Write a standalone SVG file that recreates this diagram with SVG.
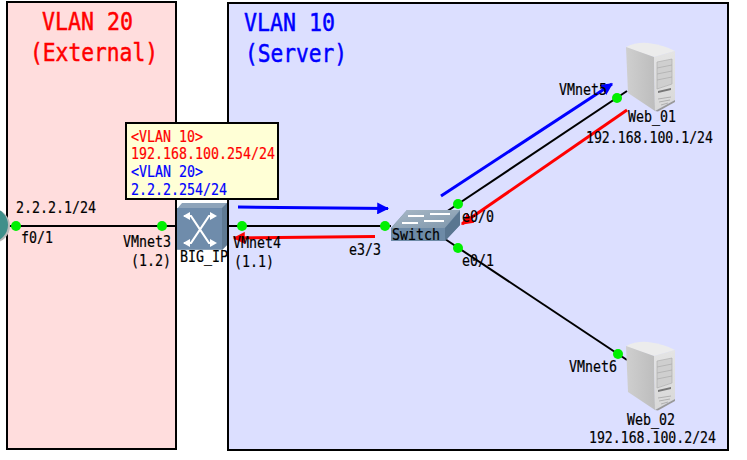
<svg xmlns="http://www.w3.org/2000/svg" width="747" height="460" viewBox="0 0 747 460">
<defs>
<style>
text{font-family:"DejaVu Sans Mono","Liberation Mono",monospace;fill:#000;stroke:#000;stroke-width:.2px;font-size:15px}
text.big{font-size:25px;stroke-width:.5px}
text.r{fill:#f00;stroke:#f00}
text.b{fill:#00f;stroke:#00f}
.zone{stroke:#000;stroke-width:2}
.link{stroke:#000;stroke-width:2;fill:none}
.dot{fill:#00f000}
</style>
<marker id="ab" viewBox="0 0 10 10" refX="9" refY="5" markerWidth="4" markerHeight="4" orient="auto" markerUnits="strokeWidth"><path d="M0 0L10 5L0 10Z" fill="#00f"/></marker>
<marker id="ar" viewBox="0 0 10 10" refX="9" refY="5" markerWidth="4" markerHeight="4" orient="auto" markerUnits="strokeWidth"><path d="M0 0L10 5L0 10Z" fill="#f00"/></marker>
<linearGradient id="srvF" x1="0" y1="0" x2="0" y2="1"><stop offset="0" stop-color="#e4e4e4"/><stop offset="1" stop-color="#d8d8d8"/></linearGradient>
<linearGradient id="srvS" x1="0" y1="0" x2="1" y2="0"><stop offset="0" stop-color="#cfcfcf"/><stop offset="1" stop-color="#bdbdbd"/></linearGradient>
<linearGradient id="swT" x1="0" y1="0" x2="1" y2="1"><stop offset="0" stop-color="#a8b8c6"/><stop offset="1" stop-color="#7f97ac"/></linearGradient>
<g id="server">
<path d="M0 5Q10 0 22 1Q38 3 49 9L28 15Q12 10 0 5Z" fill="#ececec"/>
<path d="M0 5L28 15L29 69L2 51Z" fill="url(#srvS)"/>
<path d="M28 15L49 9L49 58L29 69Z" fill="url(#srvF)"/>
<path d="M29 69L49 58L49 60L32 69.500Z" fill="#999"/>
<path d="M31 20L46 17V42L31 47Z" fill="#cfcfcf" stroke="#aaa" stroke-width=".6"/>
<path d="M31 26L46 23M31 32L46 29M31 38L46 35" stroke="#aaa" stroke-width=".7"/>
<path d="M32 49L45 46V48L32 51Z" fill="#777"/>
<path d="M32 57L45 55M33 60L44 58M35 63L42 61" stroke="#aaa" stroke-width=".9"/>
</g>
</defs>
<rect width="747" height="460" fill="#fff"/>
<g id="zones">
<rect class="zone" x="7" y="2" width="169" height="447" fill="#ffdddd"/>
<rect class="zone" x="228" y="3" width="500" height="447" fill="#dcdfff"/>
</g>
<g id="connectors">
<path class="link" d="M0 226H176M227 226H391"/>
<path class="link" d="M446 212L627 91"/>
<path class="link" d="M445 239L627 360"/>
<path d="M238 207L388 208.500" stroke="#00f" stroke-width="3" fill="none" marker-end="url(#ab)"/>
<path d="M375 236.500L234 238" stroke="#f00" stroke-width="3" fill="none" marker-end="url(#ar)"/>
<path d="M441 196L612 84" stroke="#00f" stroke-width="3" fill="none" marker-end="url(#ab)"/>
<path d="M627 110L462 224" stroke="#f00" stroke-width="3" fill="none" marker-end="url(#ar)"/>
</g>
<g id="ext-router">
<circle cx="-7" cy="226" r="17" fill="#bbb"/>
<circle cx="-9" cy="225" r="17" fill="#3f8f8a"/>
</g>
<g id="big-ip">
<path d="M177 209L182 203H227V245L222 250H177Z" fill="#8ea4ba"/>
<path d="M222 208L227 203V245L222 250Z" fill="#5f7a94"/>
<rect x="177" y="208" width="45" height="41" fill="#6f8cab"/>
<path d="M184 216H191L209 243H215M184 243H191L209 216H215" stroke="#fff" stroke-width="2.200" fill="none"/>
<path d="M190 212L183 216L190 220ZM190 239L183 243L190 247ZM210 212L217 216L210 220ZM210 239L217 243L210 247Z" fill="#fff"/>
<text x="180" y="262" textLength="48" lengthAdjust="spacingAndGlyphs">BIG_IP</text>
</g>
<g id="switch">
<path d="M391 228L407 210H460V225L445 241H391Z" fill="#6d8aa6"/>
<path d="M391 228L407 210H460L445 228Z" fill="url(#swT)"/>
<path d="M445 228L460 211V225L445 241Z" fill="#5a7690"/>
<path d="M408 216H424M430 214H450M402 223H418M424 221H444" stroke="#fff" stroke-width="2.200"/>
<text x="392" y="240" textLength="48" lengthAdjust="spacingAndGlyphs">Switch</text>
</g>
<g id="web01">
<use href="#server" x="626" y="42"/>
<text x="628" y="122" textLength="48" lengthAdjust="spacingAndGlyphs">Web_01</text>
<text x="586" y="143" textLength="127" lengthAdjust="spacingAndGlyphs">192.168.100.1/24</text>
</g>
<g id="web02">
<use href="#server" x="626" y="341"/>
<text x="627" y="425" textLength="48" lengthAdjust="spacingAndGlyphs">Web_02</text>
<text x="589" y="443" textLength="127" lengthAdjust="spacingAndGlyphs">192.168.100.2/24</text>
</g>
<g id="note">
<rect x="126" y="123" width="152" height="76" fill="#ffffd6" stroke="#000" stroke-width="2"/>
<text class="r" x="131" y="142" textLength="72" lengthAdjust="spacingAndGlyphs">&lt;VLAN 10&gt;</text>
<text class="r" x="131" y="159" textLength="144" lengthAdjust="spacingAndGlyphs">192.168.100.254/24</text>
<text class="b" x="131" y="177" textLength="72" lengthAdjust="spacingAndGlyphs">&lt;VLAN 20&gt;</text>
<text class="b" x="131" y="195" textLength="96" lengthAdjust="spacingAndGlyphs">2.2.2.254/24</text>
</g>
<g id="titles">
<text class="big r" x="42" y="30" textLength="91" lengthAdjust="spacingAndGlyphs">VLAN 20</text>
<text class="big r" x="30" y="61" textLength="128" lengthAdjust="spacingAndGlyphs">(External)</text>
<text class="big b" x="244" y="31" textLength="91" lengthAdjust="spacingAndGlyphs">VLAN 10</text>
<text class="big b" x="245" y="62" textLength="102" lengthAdjust="spacingAndGlyphs">(Server)</text>
</g>
<g id="ports">
<circle class="dot" cx="16" cy="226" r="5"/>
<circle class="dot" cx="162" cy="226" r="5"/>
<circle class="dot" cx="242" cy="226" r="5"/>
<circle class="dot" cx="385" cy="226" r="5"/>
<circle class="dot" cx="458" cy="204" r="5"/>
<circle class="dot" cx="458" cy="248" r="5"/>
<circle class="dot" cx="617" cy="98" r="5"/>
<circle class="dot" cx="618" cy="354" r="5"/>
<text x="16" y="213" textLength="80" lengthAdjust="spacingAndGlyphs">2.2.2.1/24</text>
<text x="21" y="243" textLength="32" lengthAdjust="spacingAndGlyphs">f0/1</text>
<text x="123" y="247" textLength="48" lengthAdjust="spacingAndGlyphs">VMnet3</text>
<text x="131" y="266" textLength="40" lengthAdjust="spacingAndGlyphs">(1.2)</text>
<text x="233" y="248" textLength="48" lengthAdjust="spacingAndGlyphs">VMnet4</text>
<text x="234" y="267" textLength="40" lengthAdjust="spacingAndGlyphs">(1.1)</text>
<text x="349" y="255" textLength="32" lengthAdjust="spacingAndGlyphs">e3/3</text>
<text x="462" y="222" textLength="32" lengthAdjust="spacingAndGlyphs">e0/0</text>
<text x="462" y="266" textLength="32" lengthAdjust="spacingAndGlyphs">e0/1</text>
<text x="559" y="95" textLength="48" lengthAdjust="spacingAndGlyphs">VMnet5</text>
<text x="569" y="372" textLength="48" lengthAdjust="spacingAndGlyphs">VMnet6</text>
</g>
</svg>
